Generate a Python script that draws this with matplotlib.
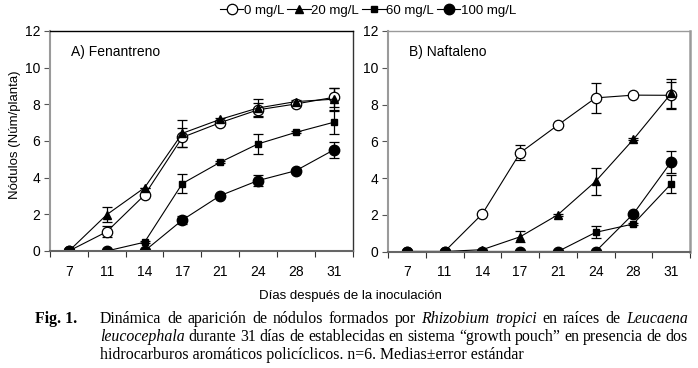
import matplotlib
matplotlib.use("Agg")
import matplotlib.pyplot as plt
import numpy as np

days = ["7", "11", "14", "17", "21", "24", "28", "31"]
series_labels = ["0 mg/L", "20 mg/L", "60 mg/L", "100 mg/L"]

# Panel A) Fenantreno
fen_0 = [0, 1.05, 3.05, 6.2, 7.0, 7.7, 8.02, 8.38]
fen_0_err = [0, 0.3, 0, 0.5, 0.1, 0.35, 0.1, 0.5]
fen_20 = [0, 1.98, 3.45, 6.42, 7.18, 7.8, 8.15, 8.28]
fen_20_err = [0, 0.4, 0, 0.75, 0.1, 0.5, 0.1, 0.6]
fen_60 = [0, 0, 0.48, 3.68, 4.84, 5.84, 6.47, 7.02]
fen_60_err = [0, 0, 0.05, 0.5, 0.05, 0.55, 0.05, 0.63]
fen_100 = [0, 0, 0, 1.69, 3.02, 3.84, 4.38, 5.51]
fen_100_err = [0, 0, 0, 0.2, 0.05, 0.3, 0.05, 0.45]

# Panel B) Naftaleno
naf_0 = [0, 0, 2.05, 5.37, 6.88, 8.36, 8.51, 8.5]
naf_0_err = [0, 0, 0, 0.4, 0.05, 0.83, 0.05, 0.72]
naf_20 = [0, 0, 0.1, 0.8, 2.0, 3.82, 6.1, 8.6]
naf_20_err = [0, 0, 0, 0.3, 0.05, 0.73, 0.05, 0.8]
naf_60 = [0, 0, 0, 0, 0, 1.04, 1.5, 3.68]
naf_60_err = [0, 0, 0, 0, 0, 0.33, 0.05, 0.5]
naf_100 = [0, 0, 0, 0, 0, 0, 2.05, 4.87]
naf_100_err = [0, 0, 0, 0, 0, 0, 0.05, 0.6]

plt.rcParams['font.family'] = ['Liberation Sans', 'DejaVu Sans']

W, H = 698, 368
fig = plt.figure(figsize=(W / 100, H / 100), dpi=100)

def ax_rect(x0, x1, ytop, ybot):
    return [x0 / W, 1 - ybot / H, (x1 - x0) / W, (ybot - ytop) / H]

axA = fig.add_axes(ax_rect(50, 352.5, 31, 251))
axB = fig.add_axes(ax_rect(388, 690, 31, 251.5))

styles = [
    dict(marker='o', mfc='white', mec='black', ms=7.5, mew=0.9),
    dict(marker='^', mfc='black', mec='black', ms=6),
    dict(marker='s', mfc='black', mec='black', ms=4.8),
    dict(marker='o', mfc='black', mec='black', ms=7.5),
]

def draw(ax, data, title):
    x = np.arange(len(days))
    for (vals, errs), st in zip(data, styles):
        ax.errorbar(x, vals, yerr=errs, color='black', lw=0.8, elinewidth=0.9,
                    capsize=3.5, capthick=0.9, **st)
    ax.set_xlim(-0.5, len(days) - 0.5)
    ax.set_ylim(0, 12)
    ax.set_yticks(range(0, 13, 2))
    ax.set_xticks(x)
    ax.set_xticklabels(days)
    ax.set_xticks(np.arange(-0.5, len(days), 1.0), minor=True)
    ax.tick_params(axis='x', which='major', length=0, pad=10, labelsize=10)
    ax.tick_params(axis='x', which='minor', length=4, direction='out', color='#333333', width=0.8)
    ax.tick_params(axis='y', length=4, direction='out', color='#555555', width=0.8, labelsize=10, pad=3)
    ax.text(0.07, 0.905, title, transform=ax.transAxes, fontsize=10, va='center', ha='left')
    for s in ax.spines.values():
        s.set_linewidth(1.0)

draw(axA, [(fen_0, fen_0_err), (fen_20, fen_20_err), (fen_60, fen_60_err), (fen_100, fen_100_err)], "A) Fenantreno")
draw(axB, [(naf_0, naf_0_err), (naf_20, naf_20_err), (naf_60, naf_60_err), (naf_100, naf_100_err)], "B) Naftaleno")

axA.spines['left'].set_color('#9a9a9a')
axA.spines['left'].set_linewidth(1.5)
axA.spines['top'].set_color('black')
axA.spines['right'].set_color('#333333')
axA.spines['bottom'].set_color('#666666')
axA.spines['bottom'].set_linewidth(1.5)
for side in ['left', 'top', 'right']:
    axB.spines[side].set_color('#9a9a9a')
axB.spines['left'].set_linewidth(1.5)
axB.spines['right'].set_linewidth(1.8)
axB.spines['bottom'].set_color('#666666')
axB.spines['bottom'].set_linewidth(1.5)

fig.text(15 / W, 1 - 135 / H, "Nódulos (Núm/planta)", fontsize=9.5, rotation=90,
         ha='center', va='center')

# Legend along the top
handles = [plt.Line2D([], [], color='black', lw=0.8, **st) for st in styles]
fig.legend(handles, series_labels, loc='center', bbox_to_anchor=(368 / W, 1 - 11 / H),
           ncol=4, frameon=False, fontsize=9.5, handlelength=1.8, handletextpad=0.05,
           columnspacing=0.2, borderaxespad=0)

fig.text(350 / W, 1 - 296 / H, "Días después de la inoculación", fontsize=9.5,
         ha='center', va='center')

# Caption in serif, word by word with justification
serif = ['Liberation Serif', 'DejaVu Serif']
fig.canvas.draw()
renderer = fig.canvas.get_renderer()
cap_fs = 11.4

def word_width(word, style, weight):
    t = fig.text(0, 0, word, fontsize=cap_fs, family=serif, style=style, weight=weight)
    bb = t.get_window_extent(renderer=renderer)
    t.remove()
    return bb.width

def place_line(words, x0, x1, ypix):
    widths = [word_width(w, s, wt) for w, s, wt in words]
    gap = (x1 - x0 - sum(widths)) / (len(words) - 1)
    x = x0
    for (w, s, wt), wd in zip(words, widths):
        fig.text(x / W, 1 - ypix / H, w, fontsize=cap_fs, family=serif, style=s,
                 weight=wt, va='baseline', ha='left')
        x += wd + gap

N, I = 'normal', 'italic'
fig.text(35 / W, 1 - 323 / H, "Fig. 1.", fontsize=cap_fs, family=serif,
         weight='bold', va='baseline', ha='left')
line1 = [(w, N, 'normal') for w in "Dinámica de aparición de nódulos formados por".split()] + \
        [("Rhizobium", I, 'normal'), ("tropici", I, 'normal')] + \
        [(w, N, 'normal') for w in "en raíces de".split()] + [("Leucaena", I, 'normal')]
line2 = [("leucocephala", I, 'normal')] + \
        [(w, N, 'normal') for w in "durante 31 días de establecidas en sistema “growth pouch” en presencia de dos".split()]
place_line(line1, 100, 688, 323)
place_line(line2, 100, 688, 341)
fig.text(100 / W, 1 - 359 / H, "hidrocarburos aromáticos policíclicos. n=6. Medias±error estándar",
         fontsize=cap_fs, family=serif, va='baseline', ha='left')

fig.savefig("out.png", dpi=100)
